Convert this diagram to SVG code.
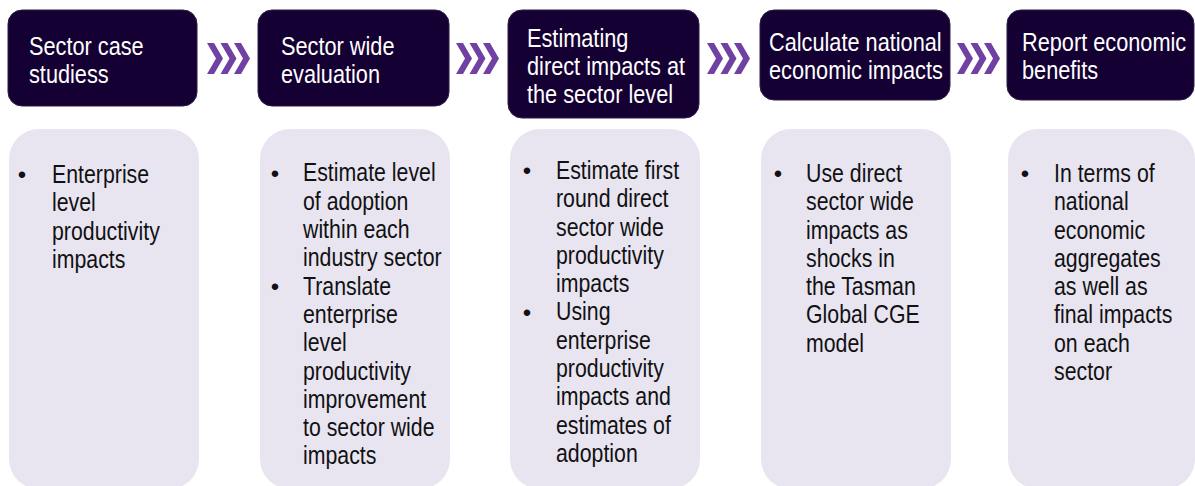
<svg xmlns="http://www.w3.org/2000/svg" width="1195" height="486" viewBox="0 0 1195 486">
  <style>
    .hdr { fill: #150033; stroke: #2e1d4a; stroke-width: 1; }
    .body { fill: #e8e5f1; }
    .ht { font-family: "Liberation Sans", Arial, sans-serif; font-size: 26.5px; fill: #ffffff; }
    .bt { font-family: "Liberation Sans", Arial, sans-serif; font-size: 26px; fill: #111111; }
    .bul { font-family: "Liberation Sans", Arial, sans-serif; font-size: 24px; fill: #111111; text-anchor: middle; }
    .chev { fill: #7041a3; }
  </style>
  <defs>
    <g id="chevrons">
      <polygon points="0,0 7,0 16,15.5 7,31 0,31 9,15.5"/>
      <polygon points="13.5,0 20.5,0 29.5,15.5 20.5,31 13.5,31 22.5,15.5"/>
      <polygon points="27,0 34,0 43,15.5 34,31 27,31 36,15.5"/>
    </g>
  </defs>
  <rect width="1195" height="486" fill="#ffffff"/>

  <g id="connectors" class="chev">
    <use href="#chevrons" x="207" y="43"/>
    <use href="#chevrons" x="456" y="43"/>
    <use href="#chevrons" x="707" y="43"/>
    <use href="#chevrons" x="957" y="43"/>
  </g>

  <g id="step1">
    <rect class="hdr" x="8" y="10" width="189" height="96" rx="14"/>
    <text class="ht" transform="translate(29 0) scale(0.82 1)"><tspan x="0" y="55">Sector case</tspan><tspan x="0" y="83">studiess</tspan></text>
    <rect class="body" x="9" y="129" width="190" height="360" rx="30"/>
    <text class="bul" x="22" y="183">•</text>
    <text class="bt" transform="translate(52 0) scale(0.82 1)"><tspan x="0" y="183">Enterprise</tspan><tspan x="0" dy="28.3">level</tspan><tspan x="0" dy="28.3">productivity</tspan><tspan x="0" dy="28.3">impacts</tspan></text>
  </g>

  <g id="step2">
    <rect class="hdr" x="258" y="10" width="191" height="96" rx="14"/>
    <text class="ht" transform="translate(281 0) scale(0.82 1)"><tspan x="0" y="55">Sector wide</tspan><tspan x="0" y="83">evaluation</tspan></text>
    <rect class="body" x="260" y="129" width="190" height="360" rx="30"/>
    <text class="bul" x="275" y="181.5">•</text>
    <text class="bul" x="275" y="294.7">•</text>
    <text class="bt" transform="translate(303 0) scale(0.82 1)"><tspan x="0" y="181.5">Estimate level</tspan><tspan x="0" dy="28.3">of adoption</tspan><tspan x="0" dy="28.3">within each</tspan><tspan x="0" dy="28.3">industry sector</tspan><tspan x="0" dy="28.3">Translate</tspan><tspan x="0" dy="28.3">enterprise</tspan><tspan x="0" dy="28.3">level</tspan><tspan x="0" dy="28.3">productivity</tspan><tspan x="0" dy="28.3">improvement</tspan><tspan x="0" dy="28.3">to sector wide</tspan><tspan x="0" dy="28.3">impacts</tspan></text>
  </g>

  <g id="step3">
    <rect class="hdr" x="508" y="10" width="191" height="108" rx="14"/>
    <text class="ht" transform="translate(527 0) scale(0.82 1)"><tspan x="0" y="47">Estimating</tspan><tspan x="0" y="75">direct impacts at</tspan><tspan x="0" y="103">the sector level</tspan></text>
    <rect class="body" x="510" y="129" width="190" height="360" rx="30"/>
    <text class="bul" x="527" y="179">•</text>
    <text class="bul" x="527" y="320.5">•</text>
    <text class="bt" transform="translate(556 0) scale(0.82 1)"><tspan x="0" y="179">Estimate first</tspan><tspan x="0" dy="28.3">round direct</tspan><tspan x="0" dy="28.3">sector wide</tspan><tspan x="0" dy="28.3">productivity</tspan><tspan x="0" dy="28.3">impacts</tspan><tspan x="0" dy="28.3">Using</tspan><tspan x="0" dy="28.3">enterprise</tspan><tspan x="0" dy="28.3">productivity</tspan><tspan x="0" dy="28.3">impacts and</tspan><tspan x="0" dy="28.3">estimates of</tspan><tspan x="0" dy="28.3">adoption</tspan></text>
  </g>

  <g id="step4">
    <rect class="hdr" x="760" y="10" width="190" height="90" rx="14"/>
    <text class="ht" transform="translate(769 0) scale(0.82 1)"><tspan x="0" y="51">Calculate national</tspan><tspan x="0" y="79">economic impacts</tspan></text>
    <rect class="body" x="761" y="129" width="190" height="360" rx="30"/>
    <text class="bul" x="778" y="182">•</text>
    <text class="bt" transform="translate(806 0) scale(0.82 1)"><tspan x="0" y="182">Use direct</tspan><tspan x="0" dy="28.3">sector wide</tspan><tspan x="0" dy="28.3">impacts as</tspan><tspan x="0" dy="28.3">shocks in</tspan><tspan x="0" dy="28.3">the Tasman</tspan><tspan x="0" dy="28.3">Global CGE</tspan><tspan x="0" dy="28.3">model</tspan></text>
  </g>

  <g id="step5">
    <rect class="hdr" x="1007" y="10" width="187" height="90" rx="14"/>
    <text class="ht" transform="translate(1022 0) scale(0.82 1)"><tspan x="0" y="51">Report economic</tspan><tspan x="0" y="79">benefits</tspan></text>
    <rect class="body" x="1008" y="129" width="187" height="360" rx="30"/>
    <text class="bul" x="1025" y="182">•</text>
    <text class="bt" transform="translate(1054 0) scale(0.82 1)"><tspan x="0" y="182">In terms of</tspan><tspan x="0" dy="28.3">national</tspan><tspan x="0" dy="28.3">economic</tspan><tspan x="0" dy="28.3">aggregates</tspan><tspan x="0" dy="28.3">as well as</tspan><tspan x="0" dy="28.3">final impacts</tspan><tspan x="0" dy="28.3">on each</tspan><tspan x="0" dy="28.3">sector</tspan></text>
  </g>
</svg>
